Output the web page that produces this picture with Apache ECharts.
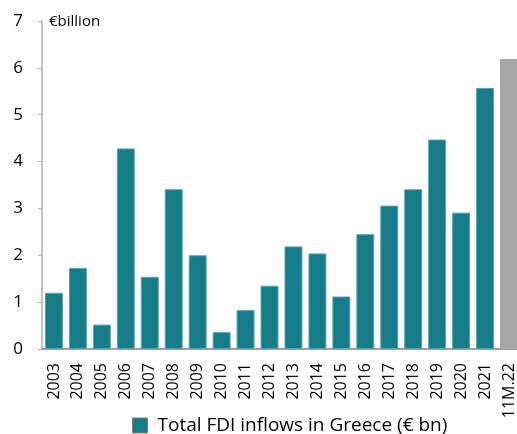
<!DOCTYPE html>
<html>
<head>
<meta charset="utf-8">
<script src="https://cdn.jsdelivr.net/npm/echarts@6/dist/echarts.min.js"></script>
<style>
  html, body { margin: 0; padding: 0; background: #fff; }
  #chart { width: 517px; height: 434px; }
</style>
</head>
<body>
<div id="chart"></div>
<script>
// Total FDI inflows in Greece, € billion
const years = ['2003', '2004', '2005', '2006', '2007', '2008', '2009', '2010', '2011', '2012',
  '2013', '2014', '2015', '2016', '2017', '2018', '2019', '2020', '2021', '11M.22']
const fdi = [1.20, 1.73, 0.52, 4.28, 1.54, 3.41, 2.00, 0.36, 0.83, 1.35,
  2.19, 2.04, 1.12, 2.45, 3.06, 3.41, 4.47, 2.91, 5.57, 6.19]
const partialYear = '11M.22'
const seriesName = 'Total FDI inflows in Greece (€ bn)'

const TEAL = '#167d88', GREY = '#a6a6a6'
const FONT = '"Open Sans", "Noto Sans", sans-serif'

const chart = echarts.init(document.getElementById('chart'))
chart.setOption({
  animation: false,
  textStyle: { fontFamily: FONT, color: '#000' },
  grid: { left: 42, width: 479, top: 21, bottom: 85, outerBoundsMode: 'none' },
  graphic: [{
    type: 'text', left: 49, top: 14,
    style: { text: '€billion', fontFamily: FONT, fontSize: 15, fill: '#000' }
  }],
  legend: {
    top: 411, left: 127,
    data: [seriesName],
    icon: 'rect', itemWidth: 15, itemHeight: 15, itemGap: 8,
    textStyle: { fontFamily: FONT, fontSize: 19, color: '#000', padding: [0, 0, 0, 5] },
    itemStyle: { borderColor: '#7f7f7f', borderWidth: 1 }
  },
  xAxis: {
    type: 'category',
    data: years,
    axisLine: { lineStyle: { color: '#808080', width: 1.5 } },
    axisTick: { show: false },
    axisLabel: { rotate: 90, interval: 0, fontSize: 16, color: '#000', margin: 14 }
  },
  yAxis: {
    type: 'value', min: 0, max: 7, interval: 1,
    splitLine: { show: false },
    axisLine: { show: true, lineStyle: { color: '#b0b0b0', width: 1.5 } },
    axisTick: { show: true, length: 4, lineStyle: { color: '#b0b0b0' } },
    axisLabel: { fontSize: 17, color: '#000', margin: 19 }
  },
  series: [{
    name: seriesName,
    type: 'bar',
    barCategoryGap: '25%',
    itemStyle: { color: TEAL, borderColor: '#5aa3ab', borderWidth: 1 },
    data: years.map((y, i) => y === partialYear
      ? { value: fdi[i], itemStyle: { color: GREY, borderColor: GREY } }
      : fdi[i])
  }]
})
</script>
</body>
</html>
